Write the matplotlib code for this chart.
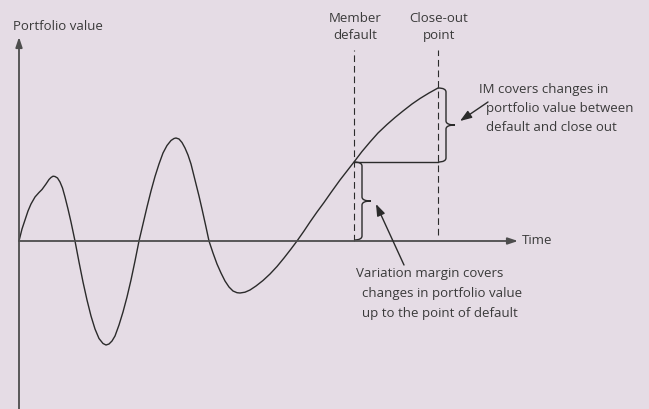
import matplotlib
matplotlib.use("Agg")
import matplotlib.pyplot as plt
from matplotlib.path import Path
from matplotlib.patches import PathPatch

# portfolio value over time (schematic)
time = [0, 3, 6, 9, 12, 16, 20, 23, 27, 30, 32, 34, 36, 38.5, 41, 43.5, 46, 49, 52, 56,
        60, 64, 68, 72, 76, 80, 84, 87, 90, 93, 96, 100, 104, 108, 112, 116, 120,
        124, 128, 132, 136, 140, 144, 148, 152, 155, 157, 160, 163, 166, 169, 172, 176,
        180, 183, 187, 190, 194, 198, 202, 206, 210, 214, 218, 221, 226, 231, 237, 244,
        251, 258, 265, 272, 278, 285, 291, 298, 305, 312, 321, 328, 335, 343, 351, 359,
        368, 376, 384, 393, 401, 410, 419]
value = [0, 12, 21, 30, 37, 44, 48.5, 51.5, 57, 61.5, 63.5, 64.8, 64.5, 63, 59, 53, 44, 32, 19, 0,
         -21, -41, -59, -75, -88, -97.5, -102.5, -104, -103, -100, -95, -84, -71, -56, -39, -20, 0,
         17, 34, 50, 64.5, 77, 88, 95.5, 100.5, 102.5, 103, 102, 98.5, 93, 86, 77, 61,
         45, 32, 14, 0, -12, -23, -32, -40, -46, -50, -51.7, -52, -51.2, -49, -45, -39.5,
         -33, -25.5, -17, -8, 0, 10, 19, 29, 38.5, 48.5, 61, 70, 79, 89.5, 99, 108,
         116.5, 123.5, 130, 137, 142.5, 148, 153]

default_t = 335
closeout_t = 419

event_labels = ["Member\ndefault", "Close-out\npoint"]
im_text = ["IM covers changes in", "portfolio value between", "default and close out"]
vm_text = ["Variation margin covers", "changes in portfolio value", "up to the point of default"]

bg = "#e5dce5"
ink = "#2b2b2b"
txt = "#3a3a3a"
plt.rcParams["font.family"] = ["Open Sans", "DejaVu Sans"]

fig = plt.figure(figsize=(6.49, 4.09), dpi=100, facecolor=bg)
ax = fig.add_axes([0, 0, 1, 1])
ax.set_facecolor(bg)
ax.set_xlim(-19, 630)
ax.set_ylim(-168, 241)
ax.axis("off")

# axes with arrow heads
arr = dict(arrowstyle="-|>,head_length=0.6,head_width=0.2", color="#4d4d4d",
           lw=1.3, mutation_scale=10, shrinkA=0, shrinkB=0)
ax.annotate("", xy=(499, 0), xytext=(0, 0), arrowprops=arr)
ax.annotate("", xy=(0, 204), xytext=(0, -170), arrowprops=arr)
ax.text(-6, 215, "Portfolio value", fontsize=9.5, color=txt, va="center", ha="left")
ax.text(503, 1, "Time", fontsize=9.5, color=txt, va="center", ha="left")

ax.plot(time, value, color=ink, lw=1.0, solid_joinstyle="round")

v_def = value[time.index(default_t)]
v_close = value[time.index(closeout_t)]

# dashed event lines
ax.plot([default_t, default_t], [0, 191], color=ink, lw=0.8, ls=(0, (6, 3.5)))
ax.plot([closeout_t, closeout_t], [6, 191], color=ink, lw=0.8, ls=(0, (6, 3.5)))
for t, lab in zip([default_t, closeout_t], event_labels):
    ax.text(t + 1, 214, lab, fontsize=9.5, color=txt, ha="center", va="center",
            linespacing=1.45)

ax.plot([default_t, closeout_t], [v_def, v_def], color=ink, lw=1.0)


def brace(x0, ya, yb, w=8, tip=17, r=4):
    ym = (ya + yb) / 2
    xv, xt = x0 + w, x0 + tip
    verts = [(x0, ya), (xv, ya), (xv, ya - r), (xv, ym + r), (xv, ym), (xt, ym),
             (xv, ym), (xv, ym - r), (xv, yb + r), (xv, yb), (x0, yb)]
    codes = [Path.MOVETO, Path.CURVE3, Path.CURVE3, Path.LINETO, Path.CURVE3, Path.CURVE3,
             Path.CURVE3, Path.CURVE3, Path.LINETO, Path.CURVE3, Path.CURVE3]
    ax.add_patch(PathPatch(Path(verts, codes), fc="none", ec=ink, lw=1.0))


brace(closeout_t, v_close, v_def)
brace(default_t, v_def, 1)

pointer = dict(arrowstyle="-|>,head_length=0.7,head_width=0.25", color=ink,
               lw=1.0, mutation_scale=10, shrinkA=0, shrinkB=0)
ax.annotate("", xy=(441, 120), xytext=(469, 139), arrowprops=pointer)
ax.annotate("", xy=(357, 37), xytext=(385, -24), arrowprops=pointer)

for i, (line, x) in enumerate(zip(im_text, [460, 467, 467])):
    ax.text(x, 151 - 18.8 * i, line, fontsize=9.5, color=txt, va="center", ha="left")
for i, (line, x) in enumerate(zip(vm_text, [337, 343.5, 343.5])):
    ax.text(x, -33 - 19.5 * i, line, fontsize=9.5, color=txt, va="center", ha="left")

fig.savefig("out.png", dpi=100, facecolor=bg)
